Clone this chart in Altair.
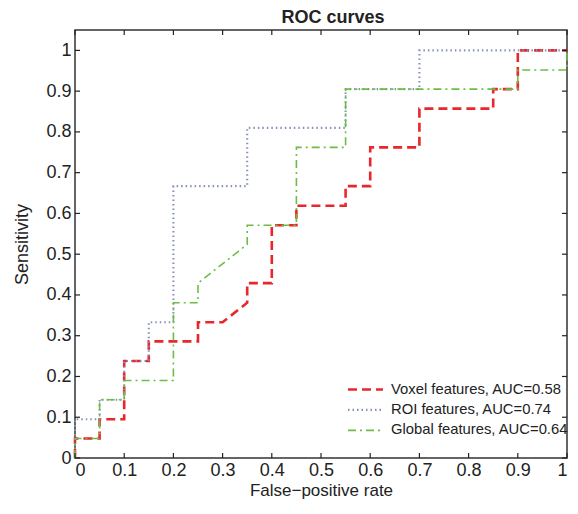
import altair as alt
import pandas as pd

# ---- data ----
series_names = ["Voxel features, AUC=0.58", "ROI features, AUC=0.74", "Global features, AUC=0.64"]

voxel_fpr = [0, 0, 0.05, 0.05, 0.1, 0.1, 0.15, 0.15, 0.25, 0.25, 0.3, 0.35, 0.35, 0.4,
             0.4, 0.45, 0.45, 0.55, 0.55, 0.6, 0.6, 0.7, 0.7, 0.85, 0.85, 0.9, 0.9, 1.0]
voxel_tpr = [0, 0.048, 0.048, 0.095, 0.095, 0.238, 0.238, 0.286, 0.286, 0.333, 0.333, 0.381, 0.429, 0.429,
             0.571, 0.571, 0.619, 0.619, 0.667, 0.667, 0.762, 0.762, 0.857, 0.857, 0.905, 0.905, 1.0, 1.0]

roi_fpr = [0, 0, 0.05, 0.05, 0.1, 0.1, 0.15, 0.15, 0.2, 0.2, 0.35, 0.35, 0.55, 0.55, 0.7, 0.7, 1.0]
roi_tpr = [0, 0.095, 0.095, 0.143, 0.143, 0.238, 0.238, 0.333, 0.333, 0.667, 0.667, 0.810, 0.810,
           0.905, 0.905, 1.0, 1.0]

global_fpr = [0, 0, 0.05, 0.05, 0.1, 0.1, 0.2, 0.2, 0.25, 0.25, 0.35, 0.35, 0.45, 0.45,
              0.55, 0.55, 0.9, 0.9, 1.0, 1.0]
global_tpr = [0, 0.048, 0.048, 0.143, 0.143, 0.190, 0.190, 0.381, 0.381, 0.429, 0.524, 0.571, 0.571,
              0.762, 0.762, 0.905, 0.905, 0.952, 0.952, 1.0]

tick_values = [0, 0.1, 0.2, 0.3, 0.4, 0.5, 0.6, 0.7, 0.8, 0.9, 1.0]

# ---- styles ----
colors = ["#e8262c", "#8593b8", "#6cbd45"]
dashes = [[9, 5], [1.5, 3], [8, 4, 2, 4]]
widths = [2.6, 1.6, 2.2]

rows = []
for name, xs, ys in zip(series_names, [voxel_fpr, roi_fpr, global_fpr], [voxel_tpr, roi_tpr, global_tpr]):
    for i, (a, b) in enumerate(zip(xs, ys)):
        rows.append({"series": name, "fpr": a, "tpr": b, "idx": i})
df = pd.DataFrame(rows)
ticks_df = pd.DataFrame({"v": tick_values})

W, H = 492, 428
FONT = "Liberation Sans"

xscale = alt.Scale(domain=[0, 1], nice=False, zero=False)
yscale = alt.Scale(domain=[0, 1.05], nice=False, zero=False)

lines = alt.Chart(df).mark_line(strokeCap="butt", strokeJoin="miter").encode(
    x=alt.X("fpr:Q", scale=xscale,
            axis=alt.Axis(values=tick_values, format=".1~f", ticks=False, domain=False, grid=False,
                          labelFontSize=18, labelPadding=3, labelFont=FONT, labelColor="#222",
                          title="False\u2212positive rate", titleFontSize=17, titleFont=FONT,
                          titleFontWeight="normal", titleColor="#222", titlePadding=3)),
    y=alt.Y("tpr:Q", scale=yscale,
            axis=alt.Axis(values=tick_values, format=".1~f", ticks=False, domain=False, grid=False,
                          labelFontSize=18, labelPadding=4, labelFont=FONT, labelColor="#222",
                          title="Sensitivity", titleFontSize=18, titleFont=FONT,
                          titleFontWeight="normal", titleColor="#222", titleX=-53,
                          titleBaseline="middle")),
    color=alt.Color("series:N", scale=alt.Scale(domain=series_names, range=colors),
                    legend=alt.Legend(title=None)),
    strokeDash=alt.StrokeDash("series:N", scale=alt.Scale(domain=series_names, range=dashes),
                              legend=alt.Legend(title=None)),
    strokeWidth=alt.StrokeWidth("series:N", scale=alt.Scale(domain=series_names, range=widths),
                                legend=alt.Legend(title=None)),
    order="idx:Q",
)

tk = dict(color="#222", strokeWidth=1.2)
bottom_ticks = alt.Chart(ticks_df).mark_rule(**tk).encode(
    x=alt.X("v:Q", scale=xscale), y=alt.value(H), y2=alt.value(H - 5))
top_ticks = alt.Chart(ticks_df).mark_rule(**tk).encode(
    x=alt.X("v:Q", scale=xscale), y=alt.value(0), y2=alt.value(5))
left_ticks = alt.Chart(ticks_df).mark_rule(**tk).encode(
    y=alt.Y("v:Q", scale=yscale), x=alt.value(0), x2=alt.value(5))
right_ticks = alt.Chart(ticks_df).mark_rule(**tk).encode(
    y=alt.Y("v:Q", scale=yscale), x=alt.value(W), x2=alt.value(W - 5))

chart = alt.layer(lines, bottom_ticks, top_ticks, left_ticks, right_ticks).properties(
    width=W, height=H,
    title=alt.Title("ROC curves", fontSize=18, font=FONT, fontWeight="bold", color="#222",
                    anchor="middle", offset=2, dx=12),
    autosize=alt.AutoSizeParams(type="none"),
    padding={"left": 67, "top": 22, "right": 3, "bottom": 43},
).configure_view(
    stroke="#333", strokeWidth=1.5
).configure_legend(
    orient="none", legendX=283, legendY=352,
    symbolType="M-3,0H3", symbolSize=136, labelFontSize=14.8, labelFont=FONT, labelColor="#222",
    labelOffset=18, rowPadding=4.5, padding=0, labelLimit=400,
)

chart.save("out.html", embed_options={"renderer": "svg", "actions": False})
